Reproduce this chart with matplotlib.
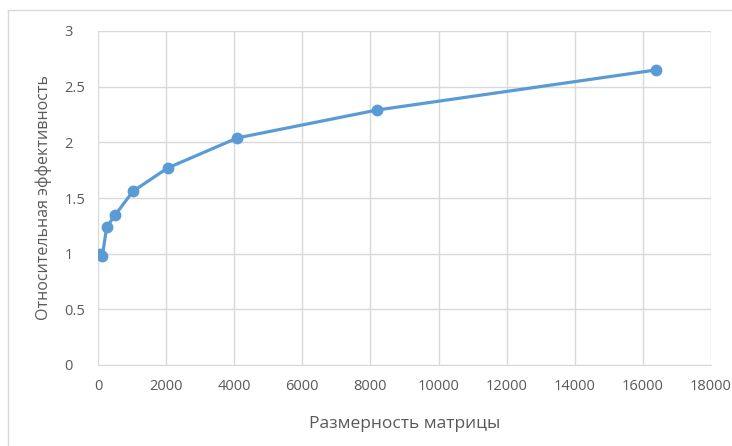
import matplotlib.pyplot as plt
from matplotlib.lines import Line2D

# matrix size vs relative efficiency
sizes = [64, 128, 256, 512, 1024, 2048, 4096, 8192, 16384]
efficiency = [1.0, 0.98, 1.24, 1.35, 1.56, 1.77, 2.04, 2.29, 2.65]

x_ticks = [0, 2000, 4000, 6000, 8000, 10000, 12000, 14000, 16000, 18000]
y_ticks = [0, 0.5, 1, 1.5, 2, 2.5, 3]
y_tick_labels = ['0', '0.5', '1', '1.5', '2', '2.5', '3']

plt.rcParams['font.family'] = ['Open Sans', 'DejaVu Sans']

fig = plt.figure(figsize=(7.32, 4.46), dpi=100)
ax = fig.add_axes([98 / 732, 81 / 446, 613 / 732, 334 / 446])

ax.plot(sizes, efficiency, color='#5B9BD5', linewidth=2.3, marker='o',
        markersize=7.5, markerfacecolor='#5B9BD5', markeredgecolor='#5B9BD5',
        zorder=3)

ax.set_xlim(0, 18000)
ax.set_ylim(0, 3)
ax.set_xticks(x_ticks)
ax.set_yticks(y_ticks)
ax.set_yticklabels(y_tick_labels, ha='left')
ax.grid(True, color='#D9D9D9', linewidth=1)
ax.set_axisbelow(True)
for side in ['top', 'right', 'left']:
    ax.spines[side].set_visible(False)
ax.spines['bottom'].set_color('#D9D9D9')
ax.tick_params(length=0, labelsize=10.5, colors='#595959', pad=10)
ax.tick_params(axis='y', pad=24)

ax.set_xlabel('Размерность матрицы', fontsize=12.5, color='#595959', labelpad=16)
ax.set_ylabel('Относительная эффективность', fontsize=11.5, color='#595959')
ax.yaxis.set_label_coords((52 - 98) / 613, 0.5)

# chart area border
fig.add_artist(Line2D([8 / 732, 8 / 732], [0, 1 - 10 / 446], color='#D9D9D9', linewidth=1))
fig.add_artist(Line2D([8 / 732, 1], [1 - 10 / 446, 1 - 10 / 446], color='#D9D9D9', linewidth=1))

plt.savefig('out.png', dpi=100)
